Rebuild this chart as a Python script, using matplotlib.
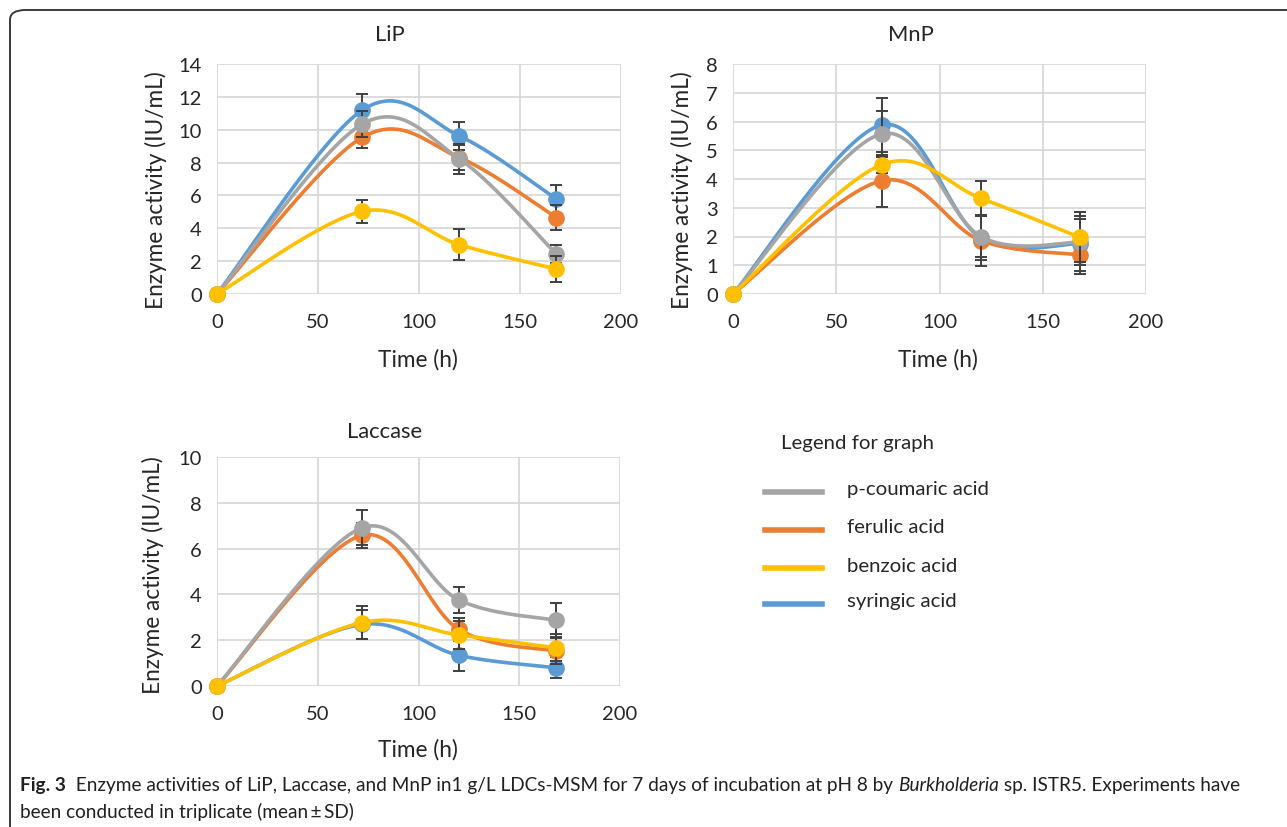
import numpy as np
import matplotlib
matplotlib.use('Agg')
import matplotlib.pyplot as plt
from matplotlib.lines import Line2D
from matplotlib.patches import FancyBboxPatch
from matplotlib.transforms import Bbox

plt.rcParams['font.family'] = ['Lato', 'DejaVu Sans']

# sampling times (h)
hours = [0, 72, 120, 168]

acids = ['p-coumaric acid', 'ferulic acid', 'benzoic acid', 'syringic acid']
colors = ['#A5A5A5', '#ED7D31', '#FFC000', '#5B9BD5']

# LiP activity (IU/mL) and SD
lip_coumaric = [0, 10.35, 8.22, 2.43]
lip_ferulic = [0, 9.54, 8.30, 4.65]
lip_benzoic = [0, 5.03, 3.00, 1.52]
lip_syringic = [0, 11.20, 9.62, 5.78]
lip_coumaric_sd = [0, 0.80, 0.90, 0.57]
lip_ferulic_sd = [0, 0.65, 0.75, 0.75]
lip_benzoic_sd = [0, 0.72, 0.96, 0.77]
lip_syringic_sd = [0, 0.97, 0.88, 0.87]

# MnP activity (IU/mL) and SD
mnp_coumaric = [0, 5.57, 2.00, 1.80]
mnp_ferulic = [0, 3.94, 1.86, 1.36]
mnp_benzoic = [0, 4.50, 3.33, 1.97]
mnp_syringic = [0, 5.88, 1.95, 1.75]
mnp_coumaric_sd = [0, 0.80, 0.70, 0.80]
mnp_ferulic_sd = [0, 0.90, 0.90, 0.66]
mnp_benzoic_sd = [0, 0.30, 0.61, 0.87]
mnp_syringic_sd = [0, 0.93, 0.75, 0.95]

# Laccase activity (IU/mL) and SD
lac_coumaric = [0, 6.91, 3.76, 2.87]
lac_ferulic = [0, 6.58, 2.47, 1.53]
lac_benzoic = [0, 2.77, 2.23, 1.67]
lac_syringic = [0, 2.69, 1.34, 0.80]
lac_coumaric_sd = [0, 0.76, 0.56, 0.74]
lac_ferulic_sd = [0, 0.54, 0.50, 0.55]
lac_benzoic_sd = [0, 0.72, 0.60, 0.60]
lac_syringic_sd = [0, 0.65, 0.70, 0.45]


def smooth(x, y, n=60):
    # Excel-like smoothed line: Bezier segments with Catmull-Rom style handles
    pts = np.column_stack([x, y]).astype(float)
    ext = np.vstack([pts[0], pts, pts[-1]])
    t = np.linspace(0, 1, n)[:, None]
    segs = []
    for i in range(len(pts) - 1):
        p0, p1, p2, p3 = ext[i], ext[i + 1], ext[i + 2], ext[i + 3]
        c1 = p1 + (p2 - p0) / 6
        c2 = p2 - (p3 - p1) / 6
        segs.append((1 - t)**3 * p1 + 3 * (1 - t)**2 * t * c1
                    + 3 * (1 - t) * t**2 * c2 + t**3 * p2)
    s = np.vstack(segs)
    return s[:, 0], s[:, 1]


fig = plt.figure(figsize=(12.87, 8.28), dpi=100)
W, H = 1287, 828
renderer = fig.canvas.get_renderer()


def fx(px):
    return px / W


def fy(py):
    return 1 - py / H


def size_for(s, width_px, **kw):
    # font size at which string s spans width_px pixels
    probe = fig.text(0, 0, s, fontsize=10, **kw)
    w = probe.get_window_extent(renderer).width
    probe.remove()
    return 10 * width_px / w


tick_fs = size_for('100', 35)
label_fs = size_for('Time (h)', 80)
title_fs = size_for('Laccase', 75)
legend_fs = size_for('p-coumaric acid', 142)


def panel(rect, series, sds, ymax, ystep, order):
    ax = fig.add_axes(rect)
    ax.set_xlim(0, 200)
    ax.set_ylim(0, ymax)
    ax.set_xticks(np.arange(0, 201, 50))
    ax.set_yticks(np.arange(0, ymax + 0.1, ystep))
    ax.grid(True, color='#D9D9D9', linewidth=1.3)
    ax.set_axisbelow(True)
    for s in ax.spines.values():
        s.set_visible(False)
    ax.tick_params(length=0, labelsize=tick_fs, colors='#262626', pad=11)
    ax.tick_params(axis='x', pad=14)
    for z, i in enumerate(order):
        xs, ys = smooth(hours, series[i])
        ax.plot(xs, ys, color=colors[i], lw=2.6, zorder=3 + z,
                solid_capstyle='round', clip_on=False)
        ax.errorbar(hours, series[i], yerr=sds[i], fmt='none', ecolor='#404040',
                    elinewidth=1.4, capsize=4.5, capthick=1.4, zorder=3 + z)
        ax.plot(hours, series[i], 'o', color=colors[i], ms=11, zorder=3 + z,
                clip_on=False)
    return ax


draw_order = [3, 1, 0, 2]

panel([fx(217), fy(295), fx(404), 230 / H],
      [lip_coumaric, lip_ferulic, lip_benzoic, lip_syringic],
      [lip_coumaric_sd, lip_ferulic_sd, lip_benzoic_sd, lip_syringic_sd],
      14, 2, draw_order)
panel([fx(733), fy(295), fx(413), 230 / H],
      [mnp_coumaric, mnp_ferulic, mnp_benzoic, mnp_syringic],
      [mnp_coumaric_sd, mnp_ferulic_sd, mnp_benzoic_sd, mnp_syringic_sd],
      8, 1, draw_order)
panel([fx(217), fy(687), fx(403), 229 / H],
      [lac_coumaric, lac_ferulic, lac_benzoic, lac_syringic],
      [lac_coumaric_sd, lac_ferulic_sd, lac_benzoic_sd, lac_syringic_sd],
      10, 2, draw_order)

# titles and axis labels
ink = '#262626'
for (x, y, s) in [(390, 35, 'LiP'), (911, 35, 'MnP'), (385, 432, 'Laccase')]:
    fig.text(fx(x), fy(y), s, ha='center', va='center', color=ink,
             fontsize=title_fs)
for (x, y) in [(156, 190), (682, 190), (153, 575)]:
    fig.text(fx(x), fy(y), 'Enzyme activity (IU/mL)', rotation=90,
             ha='center', va='center', color=ink, fontsize=label_fs)
for (x, y) in [(418, 360), (938, 360), (418, 750)]:
    fig.text(fx(x), fy(y), 'Time (h)', ha='center', va='center', color=ink,
             fontsize=label_fs)

# legend panel
fig.text(fx(781), fy(444), 'Legend for graph', ha='left', va='center',
         color=ink, fontsize=legend_fs)
leg_y = [493, 531, 569, 605]
for i, y in enumerate(leg_y):
    fig.add_artist(Line2D([fx(765), fx(822)], [fy(y), fy(y)],
                          color=colors[i], lw=4))
    fig.text(fx(847), fy(y - 3), acids[i], ha='left', va='center',
             color=ink, fontsize=legend_fs)

# outer frame with rounded corner
frame = FancyBboxPatch((fx(10), -0.2), 1.5, fy(11) + 0.2,
                       boxstyle='round,pad=0,rounding_size=0.012',
                       transform=fig.transFigure, fill=False,
                       edgecolor='#3A3A3A', lw=1.4)
fig.add_artist(frame)

# caption
bg = fig.add_axes([0, 0, 1, 1])
bg.axis('off')
cap = dict(fontsize=12.5, color='#231F20')
t1 = bg.text(fx(20), fy(786), 'Fig. 3', fontweight='bold', va='center',
             ha='left', **cap)
t2 = bg.annotate('  Enzyme activities of LiP, Laccase, and MnP in1 g/L LDCs-MSM '
                 'for 7 days of incubation at pH 8 by ',
                 xy=(1, 0), xycoords=t1, va='bottom', ha='left', **cap)
t3 = bg.annotate('Burkholderia', xy=(1, 0), xycoords=t2, va='bottom',
                 ha='left', style='italic', **cap)
t4 = bg.annotate(' sp. ISTR5. Experiments have', xy=(1, 0), xycoords=t3,
                 va='bottom', ha='left', **cap)
t5 = bg.text(fx(20), fy(812), 'been conducted in triplicate (mean\u2009\u00b1\u2009SD)',
             va='center', ha='left', **cap)

# scale the caption so its first line runs to the right margin
parts = [t1, t2, t3, t4]
fig.canvas.draw()
span = Bbox.union([p.get_window_extent(renderer) for p in parts]).width
k = 1227 / span
for p in parts + [t5]:
    p.set_fontsize(p.get_fontsize() * k)

fig.savefig('out.png', dpi=100)
